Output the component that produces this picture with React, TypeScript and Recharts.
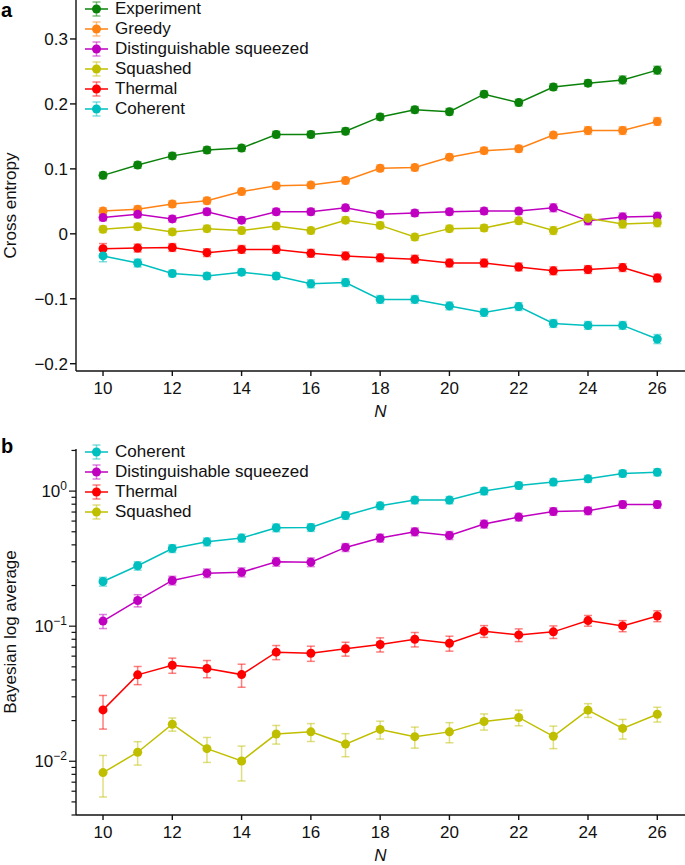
import React from 'react';
import { LineChart, Line, XAxis, YAxis, ErrorBar, Label } from 'recharts';

const FONT = '"Liberation Sans", Arial, Helvetica, sans-serif';

// photon number N (x axis)
const N = [10, 11, 12, 13, 14, 15, 16, 17, 18, 19, 20, 21, 22, 23, 24, 25, 26];
const X_TICKS = [10, 12, 14, 16, 18, 20, 22, 24, 26];

// panel a: cross entropy
const CE_TICKS = [-0.2, -0.1, 0, 0.1, 0.2, 0.3];
const ceExperiment = [0.090, 0.106, 0.120, 0.129, 0.132, 0.153, 0.153, 0.158, 0.180, 0.191, 0.188, 0.215, 0.202, 0.226, 0.232, 0.237, 0.252];
const ceGreedy = [0.035, 0.038, 0.046, 0.051, 0.065, 0.074, 0.075, 0.082, 0.101, 0.102, 0.118, 0.128, 0.131, 0.152, 0.159, 0.159, 0.173];
const ceDistSq = [0.025, 0.030, 0.023, 0.034, 0.021, 0.034, 0.034, 0.040, 0.030, 0.032, 0.034, 0.035, 0.035, 0.040, 0.020, 0.026, 0.027];
const ceSquashed = [0.007, 0.011, 0.003, 0.008, 0.005, 0.012, 0.005, 0.021, 0.013, -0.005, 0.008, 0.009, 0.020, 0.005, 0.024, 0.015, 0.017];
const ceThermal = [-0.023, -0.022, -0.021, -0.029, -0.024, -0.024, -0.030, -0.034, -0.037, -0.039, -0.045, -0.045, -0.051, -0.057, -0.055, -0.052, -0.068];
const ceCoherent = [-0.034, -0.045, -0.061, -0.065, -0.059, -0.065, -0.077, -0.075, -0.101, -0.101, -0.111, -0.121, -0.112, -0.138, -0.141, -0.141, -0.162];

const ceExperimentErr = [0.005, 0.005, 0.005, 0.005, 0.005, 0.005, 0.005, 0.005, 0.005, 0.005, 0.005, 0.005, 0.005, 0.005, 0.005, 0.006, 0.006];
const ceGreedyErr = [0.005, 0.005, 0.005, 0.005, 0.005, 0.005, 0.005, 0.005, 0.005, 0.005, 0.005, 0.005, 0.005, 0.005, 0.006, 0.006, 0.006];
const ceDistSqErr = [0.005, 0.005, 0.005, 0.005, 0.005, 0.005, 0.005, 0.005, 0.005, 0.005, 0.005, 0.005, 0.005, 0.006, 0.006, 0.006, 0.006];
const ceSquashedErr = [0.005, 0.005, 0.005, 0.005, 0.005, 0.005, 0.005, 0.005, 0.005, 0.005, 0.005, 0.005, 0.005, 0.006, 0.006, 0.006, 0.006];
const ceThermalErr = [0.008, 0.006, 0.006, 0.006, 0.006, 0.006, 0.006, 0.006, 0.006, 0.006, 0.006, 0.006, 0.006, 0.006, 0.006, 0.006, 0.006];
const ceCoherentErr = [0.009, 0.006, 0.005, 0.005, 0.005, 0.005, 0.006, 0.006, 0.006, 0.006, 0.006, 0.006, 0.006, 0.006, 0.006, 0.006, 0.007];

// panel b: Bayesian log average (log axis)
const BLA_TICKS = [
  0.004, 0.005, 0.006, 0.007, 0.008, 0.009,
  0.01, 0.02, 0.03, 0.04, 0.05, 0.06, 0.07, 0.08, 0.09,
  0.1, 0.2, 0.3, 0.4, 0.5, 0.6, 0.7, 0.8, 0.9,
  1, 2,
];
const blaCoherent = [0.214, 0.280, 0.376, 0.421, 0.449, 0.535, 0.538, 0.660, 0.778, 0.858, 0.858, 1.0, 1.10, 1.166, 1.233, 1.35, 1.38];
const blaDistSq = [0.109, 0.155, 0.218, 0.247, 0.251, 0.300, 0.298, 0.383, 0.449, 0.500, 0.470, 0.570, 0.642, 0.707, 0.715, 0.796, 0.796];
const blaThermal = [0.024, 0.0436, 0.0514, 0.0486, 0.0438, 0.0642, 0.063, 0.068, 0.0732, 0.080, 0.0748, 0.0918, 0.0862, 0.0908, 0.110, 0.1005, 0.119];
const blaSquashed = [0.00824, 0.01166, 0.0188, 0.0124, 0.01005, 0.0159, 0.0165, 0.0134, 0.0172, 0.0152, 0.0165, 0.0197, 0.0211, 0.0153, 0.0239, 0.0175, 0.0223];

const blaCoherentErr = [0.016, 0.02, 0.025, 0.028, 0.03, 0.035, 0.035, 0.042, 0.048, 0.052, 0.052, 0.06, 0.065, 0.068, 0.072, 0.078, 0.08];
const blaDistSqErr = [0.013, 0.016, 0.016, 0.018, 0.019, 0.022, 0.022, 0.026, 0.03, 0.033, 0.032, 0.037, 0.041, 0.045, 0.045, 0.05, 0.05];
const blaThermalErr = [0.0067, 0.0067, 0.0066, 0.0071, 0.0085, 0.0077, 0.0081, 0.008, 0.0088, 0.0098, 0.0095, 0.0092, 0.0093, 0.0097, 0.010, 0.0095, 0.011];
const blaSquashedErr = [0.0028, 0.0023, 0.0021, 0.0026, 0.0029, 0.0025, 0.0025, 0.0026, 0.0026, 0.0027, 0.0028, 0.0027, 0.0028, 0.0029, 0.0028, 0.0029, 0.0028];

const COLORS = {
  experiment: '#0a820a',
  greedy: '#ff8214',
  distSq: '#c000c0',
  squashed: '#bfbf00',
  thermal: '#ff0000',
  coherent: '#00bfbf',
};

interface Series {
  key: string;
  name: string;
  color: string;
  values: number[];
  errors: number[];
}

const TOP_SERIES: Series[] = [
  { key: 'experiment', name: 'Experiment', color: COLORS.experiment, values: ceExperiment, errors: ceExperimentErr },
  { key: 'greedy', name: 'Greedy', color: COLORS.greedy, values: ceGreedy, errors: ceGreedyErr },
  { key: 'distSq', name: 'Distinguishable squeezed', color: COLORS.distSq, values: ceDistSq, errors: ceDistSqErr },
  { key: 'squashed', name: 'Squashed', color: COLORS.squashed, values: ceSquashed, errors: ceSquashedErr },
  { key: 'thermal', name: 'Thermal', color: COLORS.thermal, values: ceThermal, errors: ceThermalErr },
  { key: 'coherent', name: 'Coherent', color: COLORS.coherent, values: ceCoherent, errors: ceCoherentErr },
];

const BOTTOM_SERIES: Series[] = [
  { key: 'coherent', name: 'Coherent', color: COLORS.coherent, values: blaCoherent, errors: blaCoherentErr },
  { key: 'distSq', name: 'Distinguishable squeezed', color: COLORS.distSq, values: blaDistSq, errors: blaDistSqErr },
  { key: 'thermal', name: 'Thermal', color: COLORS.thermal, values: blaThermal, errors: blaThermalErr },
  { key: 'squashed', name: 'Squashed', color: COLORS.squashed, values: blaSquashed, errors: blaSquashedErr },
];

const buildRows = (series: Series[]) =>
  N.map((n, i) => {
    const row: Record<string, number> = { n };
    series.forEach((s) => {
      row[s.key] = s.values[i];
      row[s.key + 'Err'] = s.errors[i];
    });
    return row;
  });

const topRows = buildRows(TOP_SERIES);
const bottomRows = buildRows(BOTTOM_SERIES);

const tickStyle = { fill: '#111', fontSize: 17, fontFamily: FONT };
const axisStroke = { stroke: '#111', strokeWidth: 1.4 };

const fmtCE = (v: number) => (v === 0 ? '0' : (v < 0 ? '\u2212' : '') + Math.abs(v).toFixed(1));

// log axis tick: labelled decades, short unlabelled minor ticks
const LogTick = ({ x, y, payload }: any) => {
  const lg = Math.log10(payload.value);
  const e = Math.round(lg);
  const major = Math.abs(lg - e) < 1e-6;
  return (
    <g>
      <line x1={x - (major ? 7 : 4.5)} x2={x} y1={y} y2={y} stroke="#111" strokeWidth={1.2} />
      {major && (
        <text x={x - 9} y={y + 6} textAnchor="end" fill="#111" fontSize={17} fontFamily={FONT}>
          <tspan>10</tspan>
          <tspan dy={-7} fontSize={12}>{e < 0 ? '\u2212' + Math.abs(e) : String(e)}</tspan>
        </text>
      )}
    </g>
  );
};

const yTitle = (text: string, shift: number) => ({ viewBox }: any) => {
  const cy = viewBox.y + viewBox.height / 2 + shift;
  return (
    <text x={16} y={cy} transform={`rotate(-90 16 ${cy})`} textAnchor="middle" fill="#111" fontSize={17} fontFamily={FONT}>
      {text}
    </text>
  );
};

const xTitle = ({ viewBox }: any) => (
  <text x={viewBox.x + viewBox.width / 2} y={viewBox.y + 46} textAnchor="middle" fill="#111" fontSize={17} fontStyle="italic" fontFamily={FONT}>
    N
  </text>
);

const LegendBox = ({ series, top }: { series: Series[]; top: number }) => (
  <div style={{ position: 'absolute', left: 84, top, fontFamily: FONT, fontSize: 17, color: '#111' }}>
    {series.map((s) => (
      <div key={s.key} style={{ display: 'flex', alignItems: 'center', height: 20 }}>
        <svg width={26} height={20}>
          <line x1={1} x2={24} y1={10} y2={10} stroke={s.color} strokeWidth={1.5} />
          <g stroke={s.color} strokeOpacity={0.5} strokeWidth={1.5}>
            <line x1={12.5} x2={12.5} y1={3} y2={17} />
            <line x1={8.5} x2={16.5} y1={3} y2={3} />
            <line x1={8.5} x2={16.5} y1={17} y2={17} />
          </g>
          <circle cx={12.5} cy={10} r={4.5} fill={s.color} />
        </svg>
        <span style={{ marginLeft: 5, lineHeight: '20px' }}>{s.name}</span>
      </div>
    ))}
  </div>
);

const renderLines = (series: Series[]) =>
  series.map((s) => (
    <Line
      key={s.key}
      dataKey={s.key}
      name={s.name}
      stroke={s.color}
      strokeWidth={1.5}
      dot={{ r: 4.5, fill: s.color, stroke: 'none' }}
      activeDot={false}
      isAnimationActive={false}
    >
      <ErrorBar dataKey={s.key + 'Err'} direction="y" width={4} stroke={s.color} strokeOpacity={0.5} strokeWidth={1.5} />
    </Line>
  ));

const panelLetter = (letter: string, top: number) => (
  <div style={{ position: 'absolute', left: 1, top, fontFamily: FONT, fontWeight: 'bold', fontSize: 20, lineHeight: '20px', color: '#000' }}>
    {letter}
  </div>
);

export default function App() {
  return (
    <div style={{ position: 'absolute', left: 0, top: 0, width: 685, height: 865, background: '#fff', overflow: 'hidden' }}>
      {/* a: cross entropy */}
      <div style={{ position: 'absolute', left: 0, top: 0 }}>
        <LineChart width={685} height={430} data={topRows} margin={{ top: 0, right: 0, bottom: 0, left: 0 }}>
          <XAxis
            dataKey="n"
            type="number"
            domain={[9.22, 26.8]}
            ticks={X_TICKS}
            allowDataOverflow
            height={59}
            tick={tickStyle}
            tickSize={5}
            tickMargin={6}
            axisLine={axisStroke}
            tickLine={axisStroke}
            interval={0}
          >
            <Label content={xTitle} />
          </XAxis>
          <YAxis
            type="number"
            domain={[-0.2112, 0.36]}
            ticks={CE_TICKS}
            allowDataOverflow
            width={76}
            tick={tickStyle}
            tickFormatter={fmtCE}
            tickSize={6}
            tickMargin={2}
            axisLine={axisStroke}
            tickLine={axisStroke}
            interval={0}
          >
            <Label content={yTitle('Cross entropy', 20)} />
          </YAxis>
          {renderLines(TOP_SERIES)}
        </LineChart>
      </div>
      <LegendBox series={TOP_SERIES} top={-1} />
      {panelLetter('a', 0)}

      {/* b: Bayesian log average */}
      <div style={{ position: 'absolute', left: 0, top: 430 }}>
        <LineChart width={685} height={435} data={bottomRows} margin={{ top: 19, right: 0, bottom: 0, left: 0 }}>
          <XAxis
            dataKey="n"
            type="number"
            domain={[9.22, 26.8]}
            ticks={X_TICKS}
            allowDataOverflow
            height={50}
            tick={tickStyle}
            tickSize={5}
            tickMargin={6}
            axisLine={axisStroke}
            tickLine={axisStroke}
            interval={0}
          >
            <Label content={xTitle} />
          </XAxis>
          <YAxis
            type="number"
            scale="log"
            domain={[0.004, 2.05]}
            ticks={BLA_TICKS}
            allowDataOverflow
            width={76}
            tick={<LogTick />}
            tickSize={0}
            tickMargin={0}
            axisLine={axisStroke}
            tickLine={false}
            interval={0}
          >
            <Label content={yTitle('Bayesian log average', 0)} />
          </YAxis>
          {renderLines(BOTTOM_SERIES)}
        </LineChart>
      </div>
      <LegendBox series={BOTTOM_SERIES} top={442} />
      {panelLetter('b', 436)}
    </div>
  );
}
